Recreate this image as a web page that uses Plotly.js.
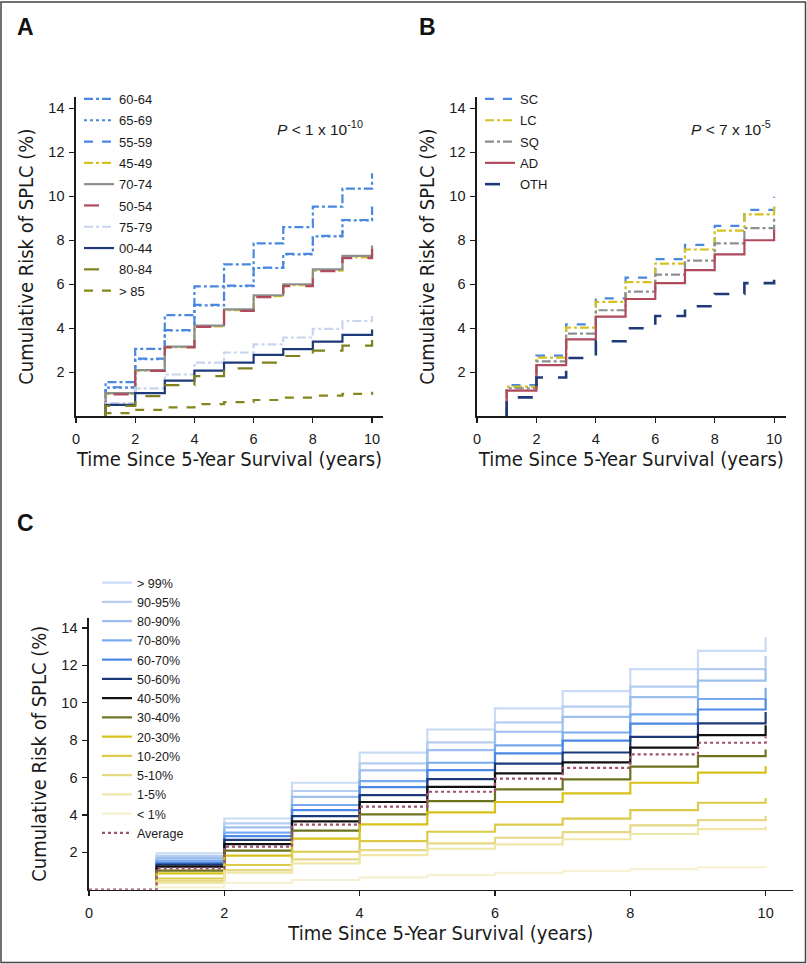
<!DOCTYPE html>
<html>
<head>
<meta charset="utf-8">
<script src="https://cdn.plot.ly/plotly-3.0.1.min.js"></script>
<style>html,body{margin:0;padding:0;background:#fff;}#chart{width:807px;height:964px;}</style>
</head>
<body>
<div id="chart"></div>
<script>
// ---------- data ----------
const years = [0,1,2,3,4,5,6,7,8,9,10];
const xTicks = [0,2,4,6,8,10];
const yTicks = [2,4,6,8,10,12,14];

// Panel A: age groups (values at years 1..10)
const ageLabels = ['60-64','65-69','55-59','45-49','70-74','50-54','75-79','00-44','80-84','&gt; 85'];
const a6064 = [1.55,3.06,4.60,5.90,6.90,7.86,8.60,9.53,10.35,11.05];
const a6569 = [1.30,2.60,3.90,5.04,5.92,6.74,7.36,8.18,8.90,9.50];
const a5559 = [1.32,2.62,3.92,5.06,5.94,6.76,7.38,8.20,8.92,9.53];
const a4549 = [1.02,2.08,3.14,4.08,4.82,5.46,5.96,6.62,7.22,7.65];
const a7074 = [1.05,2.10,3.17,4.12,4.86,5.50,6.00,6.68,7.29,7.76];
const a5054 = [1.00,2.06,3.13,4.06,4.79,5.42,5.92,6.60,7.19,7.60];
const a7579 = [0.60,1.27,1.90,2.44,2.90,3.27,3.58,3.97,4.33,4.56];
const a0044 = [0.52,1.05,1.62,2.08,2.44,2.79,3.05,3.39,3.70,3.95];
const a8084 = [0.47,0.92,1.42,1.83,2.18,2.44,2.74,2.98,3.21,3.47];
const a85   = [0.14,0.29,0.41,0.55,0.64,0.74,0.85,0.94,1.02,1.12];
const ageValues = [a6064,a6569,a5559,a4549,a7074,a5054,a7579,a0044,a8084,a85];

// Panel B: histology
const histLabels = ['SC','LC','SQ','AD','OTH'];
const bSC  = [1.42,2.76,4.18,5.36,6.30,7.14,7.79,8.65,9.38,9.98];
const bLC  = [1.35,2.67,4.03,5.20,6.10,6.94,7.58,8.44,9.18,9.60];
const bSQ  = [1.27,2.50,3.76,4.82,5.67,6.44,7.07,7.86,8.55,9.00];
const bAD  = [1.17,2.33,3.50,4.53,5.33,6.05,6.64,7.36,8.00,8.50];
const bOTH = [0.86,1.76,2.65,3.41,4.00,4.56,5.00,5.56,6.05,6.20];
const histValues = [bSC,bLC,bSQ,bAD,bOTH];

// Panel C: risk percentiles
const pctLabels = ['&gt; 99%','90-95%','80-90%','70-80%','60-70%','50-60%','40-50%','30-40%','20-30%','10-20%','5-10%','1-5%','&lt; 1%','Average'];
const c99   = [1.94,3.81,5.72,7.33,8.57,9.70,10.62,11.80,12.78,13.50];
const c9095 = [1.80,3.55,5.28,6.76,7.88,8.95,9.79,10.86,11.80,12.50];
const c8090 = [1.69,3.33,4.97,6.38,7.47,8.45,9.25,10.30,11.18,11.80];
const c7080 = [1.55,3.05,4.53,5.81,6.79,7.72,8.41,9.38,10.20,10.80];
const c6070 = [1.44,2.87,4.26,5.49,6.40,7.29,7.97,8.88,9.64,10.20];
const c5060 = [1.34,2.66,3.94,5.06,5.92,6.74,7.34,8.18,8.90,9.50];
const c4050 = [1.23,2.44,3.65,4.69,5.50,6.22,6.81,7.60,8.27,8.80];
const c3040 = [1.02,2.09,3.16,4.03,4.74,5.37,5.90,6.58,7.15,7.50];
const c2030 = [0.87,1.82,2.73,3.49,4.14,4.69,5.15,5.72,6.26,6.60];
const c1020 = [0.60,1.32,2.03,2.60,3.10,3.48,3.80,4.26,4.65,4.90];
const c510  = [0.46,1.05,1.62,2.12,2.48,2.78,3.08,3.44,3.72,3.95];
const c15   = [0.37,0.91,1.41,1.85,2.19,2.42,2.70,2.98,3.24,3.40];
const c1    = [0.12,0.37,0.52,0.66,0.78,0.90,1.00,1.10,1.20,1.25];
const cAvg  = [1.14,2.30,3.48,4.44,5.24,5.94,6.52,7.24,7.86,8.20];
const pctValues = [c99,c9095,c8090,c7080,c6070,c5060,c4050,c3040,c2030,c1020,c510,c15,c1,cAvg];

// ---------- styles ----------
const ageStyles = [
  {color:'#4a88e0', dash:'dashdot'},
  {color:'#4a88e0', dash:'dot'},
  {color:'#4a88e0', dash:'dash'},
  {color:'#d6c21c', dash:'dashdot'},
  {color:'#8a9090', dash:'solid'},
  {color:'#b04a5c', dash:'longdash'},
  {color:'#c9d4ee', dash:'dashdot'},
  {color:'#1e3a78', dash:'solid'},
  {color:'#80801e', dash:'longdash'},
  {color:'#86861e', dash:'dash'}
];
const histStyles = [
  {color:'#4a88e0', dash:'dash', width:2.2},
  {color:'#d6c21c', dash:'dashdot', width:2.2},
  {color:'#8a9090', dash:'dashdot', width:2.2},
  {color:'#b04a5c', dash:'solid', width:2.2},
  {color:'#1e3a78', dash:'longdash', width:2.6}
];
const pctColors = ['#c9dbf5','#b5cdf0','#9dbfee','#78aaf0','#4a88e3','#1c3a7a','#111111','#6e7320','#d8c21a','#dccb4a','#e6d884','#efe6a8','#f6f1d2','#a0506a'];

function stepX(fromZero){ return fromZero ? years.slice() : [years[1]].concat(years.slice(1)); }
function stepY(vals){ return [0].concat(vals); }

const traces = [];
ageLabels.forEach((name,i)=>{
  traces.push({type:'scatter', mode:'lines', name:name, x:stepX(false), y:stepY(ageValues[i]),
    line:{shape:'hv', color:ageStyles[i].color, dash:ageStyles[i].dash, width:2.2},
    xaxis:'x', yaxis:'y', legend:'legend', legendgroup:'a'+i, hoverinfo:'skip'});
});
histLabels.forEach((name,i)=>{
  traces.push({type:'scatter', mode:'lines', name:name, x:stepX(false), y:stepY(histValues[i]),
    line:{shape:'hv', color:histStyles[i].color, dash:histStyles[i].dash, width:histStyles[i].width},
    xaxis:'x2', yaxis:'y2', legend:'legend2', legendgroup:'b'+i, hoverinfo:'skip'});
});
pctLabels.forEach((name,i)=>{
  const isAvg = name === 'Average';
  traces.push({type:'scatter', mode:'lines', name:name, x:stepX(isAvg), y:stepY(pctValues[i]),
    line:{shape:'hv', color:pctColors[i], dash:isAvg?'dot':'solid', width:2.2},
    xaxis:'x3', yaxis:'y3', legend:'legend3', hoverinfo:'skip'});
});

const W = 807, H = 964;
const px = v => v / W;
const py = v => 1 - v / H;

const tickFont = {family:'Liberation Sans, Arial, sans-serif', size:14.5, color:'#1a1a1a'};
const titleFont = {family:'Liberation Sans Narrow, DejaVu Sans Condensed, Arial Narrow, sans-serif', size:20, color:'#1a1a1a'};
const xTitle = 'Time Since 5-Year Survival (years)';
const yTitle = 'Cumulative Risk of SPLC (%)';

function xAxis(d0,d1,r1,anchor,lay){
  return {domain:[px(d0),px(d1)], range:[0,r1], anchor:anchor, tickvals:xTicks, ticks:'outside', ticklen:5,
    tickcolor:'#1a1a1a', tickwidth:1.2, showline:true, linecolor:'#1a1a1a', linewidth:1.6, zeroline:false,
    showgrid:false, tickfont:tickFont, ticklabelstandoff:4, layer:lay||'above traces',
    title:{text:xTitle, font:titleFont, standoff:6}};
}
function yAxis(d0,d1,r1,anchor){
  return {domain:[py(d1),py(d0)], range:[0,r1], anchor:anchor, tickvals:yTicks, ticks:'outside', ticklen:5,
    tickcolor:'#1a1a1a', tickwidth:1.2, showline:true, linecolor:'#1a1a1a', linewidth:1.6, zeroline:false,
    showgrid:false, tickfont:tickFont, ticklabelstandoff:2,
    title:{text:yTitle, font:titleFont, standoff:9}};
}

const legFont = {family:'Liberation Sans, Arial, sans-serif', size:13, color:'#1a1a1a'};

const layout = {
  width:W, height:H, margin:{l:0,r:0,t:0,b:0}, paper_bgcolor:'#ffffff', plot_bgcolor:'rgba(0,0,0,0)',
  showlegend:true,
  xaxis: xAxis(76,383,10.37,'y'),
  yaxis: yAxis(97,416.3,14.51,'x'),
  xaxis2: xAxis(477,785.7,10.39,'y2'),
  yaxis2: yAxis(97,416.3,14.51,'x2'),
  xaxis3: xAxis(89,792.7,10.4,'y3','below traces'),
  yaxis3: yAxis(617.7,889.7,14.55,'x3'),
  legend:{x:px(79), y:py(84), xanchor:'left', yanchor:'top', font:legFont, bgcolor:'rgba(0,0,0,0)', tracegroupgap:1.4, traceorder:'grouped'},
  legend2:{x:px(480), y:py(84), xanchor:'left', yanchor:'top', font:legFont, bgcolor:'rgba(0,0,0,0)', tracegroupgap:1.4, traceorder:'grouped'},
  legend3:{x:px(97), y:py(568), xanchor:'left', yanchor:'top', font:{family:'Liberation Sans, Arial, sans-serif', size:12.5, color:'#1a1a1a'}, bgcolor:'rgba(0,0,0,0)', traceorder:'normal'},
  annotations:[
    {xref:'paper', yref:'paper', x:px(15), y:py(27), xanchor:'left', yanchor:'middle', showarrow:false, text:'<b>A</b>', font:{family:'Liberation Sans, Arial, sans-serif', size:23, color:'#111'}},
    {xref:'paper', yref:'paper', x:px(417), y:py(27), xanchor:'left', yanchor:'middle', showarrow:false, text:'<b>B</b>', font:{family:'Liberation Sans, Arial, sans-serif', size:23, color:'#111'}},
    {xref:'paper', yref:'paper', x:px(15), y:py(523), xanchor:'left', yanchor:'middle', showarrow:false, text:'<b>C</b>', font:{family:'Liberation Sans, Arial, sans-serif', size:23, color:'#111'}},
    {xref:'x', yref:'y', x:9.76, y:13.1, xanchor:'right', yanchor:'middle', showarrow:false, text:'<i>P</i> &lt; 1 x 10<sup>-10</sup>', font:{family:'Liberation Sans, Arial, sans-serif', size:15.5, color:'#1a1a1a'}},
    {xref:'x2', yref:'y2', x:9.97, y:13.1, xanchor:'right', yanchor:'middle', showarrow:false, text:'<i>P</i> &lt; 7 x 10<sup>-5</sup>', font:{family:'Liberation Sans, Arial, sans-serif', size:15.5, color:'#1a1a1a'}}
  ],
  shapes:[
    {type:'rect', xref:'paper', yref:'paper', x0:px(1), x1:px(805.5), y0:py(962.5), y1:py(2), line:{color:'#444', width:1.5}, fillcolor:'rgba(0,0,0,0)', layer:'above'}
  ]
};

Plotly.newPlot('chart', traces, layout, {staticPlot:true, displayModeBar:false});
</script>
</body>
</html>
